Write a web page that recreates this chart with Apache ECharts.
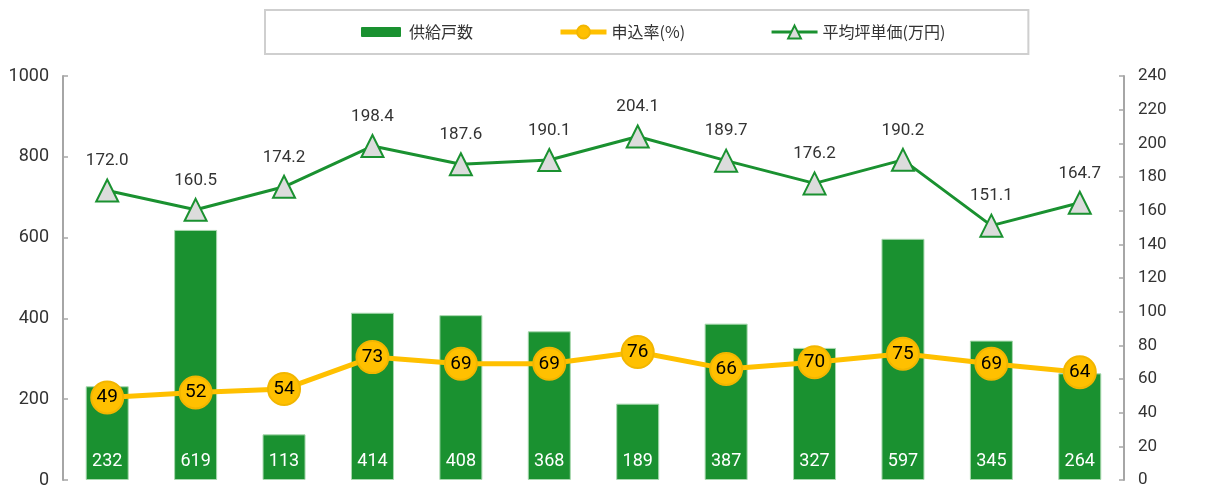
<!DOCTYPE html>
<html>
<head>
<meta charset="utf-8">
<script src="https://cdn.jsdelivr.net/npm/echarts@6/dist/echarts.min.js"></script>
<style>
html, body { margin: 0; padding: 0; background: #fff; }
#main { width: 1215px; height: 489px; }
</style>
</head>
<body>
<div id="main"></div>
<script>
var categories = ['1', '2', '3', '4', '5', '6', '7', '8', '9', '10', '11', '12'];
var supply = [232, 619, 113, 414, 408, 368, 189, 387, 327, 597, 345, 264];
var rate = [49, 52, 54, 73, 69, 69, 76, 66, 70, 75, 69, 64];
var price = [172.0, 160.5, 174.2, 198.4, 187.6, 190.1, 204.1, 189.7, 176.2, 190.2, 151.1, 164.7];

var font = "Roboto, 'Noto Sans CJK JP', sans-serif";
var green = '#1a9130';
var yellow = '#ffc000';

var myChart = echarts.init(document.getElementById('main'));
var option = {
    backgroundColor: '#fff',
    textStyle: { fontFamily: font },
    legend: {
        left: 265,
        top: 10,
        padding: [11, 83, 11, 90],
        borderColor: '#cfcfcf',
        borderWidth: 2,
        itemGap: 85,
        itemWidth: 46,
        itemHeight: 16,
        textStyle: { fontSize: 16, color: '#333', fontFamily: "'Noto Sans CJK JP', sans-serif" },
        data: [
            { name: '供給戸数', itemStyle: { borderColor: '#fff', borderWidth: 6 } },
            { name: '申込率(%)', lineStyle: { width: 5 } },
            { name: '平均坪単価(万円)', lineStyle: { width: 3 } }
        ]
    },
    grid: {
        left: 63,
        right: 91,
        top: 76,
        bottom: 7
    },
    xAxis: {
        type: 'category',
        data: categories,
        axisLine: { show: false },
        axisTick: { show: false },
        axisLabel: { show: false }
    },
    yAxis: [
        {
            type: 'value',
            min: 0,
            max: 1000,
            interval: 200,
            axisLine: { show: true, lineStyle: { color: '#a6a6a6', width: 2 } },
            axisTick: { show: true, inside: true, length: 5, lineStyle: { color: '#a6a6a6', width: 1.5 } },
            axisLabel: {
                color: '#333',
                fontSize: 18,
                margin: 14,
                formatter: function (v) {
                    return String(v);
                }
            },
            splitLine: { show: false }
        },
        {
            type: 'value',
            min: 0,
            max: 240,
            interval: 20,
            axisLine: { show: true, lineStyle: { color: '#a6a6a6', width: 2 } },
            axisTick: { show: true, inside: true, length: 5, lineStyle: { color: '#a6a6a6', width: 1.5 } },
            axisLabel: { color: '#333', fontSize: 17, margin: 14 },
            splitLine: { show: false }
        }
    ],
    series: [
        {
            name: '供給戸数',
            type: 'bar',
            data: supply,
            barWidth: 43,
            itemStyle: { color: green, borderColor: '#a8d8ae', borderWidth: 1 },
            label: {
                show: true,
                position: 'insideBottom',
                distance: 10,
                color: '#fff',
                fontSize: 18
            }
        },
        {
            name: '申込率(%)',
            type: 'line',
            yAxisIndex: 1,
            data: rate,
            symbol: 'circle',
            symbolSize: 32,
            z: 4,
            lineStyle: { color: yellow, width: 5 },
            itemStyle: { color: yellow, borderColor: '#f2b600', borderWidth: 2 },
            label: {
                show: true,
                position: 'inside',
                color: '#000',
                fontSize: 19
            }
        },
        {
            name: '平均坪単価(万円)',
            type: 'line',
            yAxisIndex: 1,
            data: price,
            symbol: 'triangle',
            symbolSize: 22,
            z: 3,
            lineStyle: { color: green, width: 3 },
            itemStyle: { color: '#dcdcdc', borderColor: green, borderWidth: 2 },
            label: {
                show: true,
                position: 'top',
                distance: 9,
                color: '#333',
                fontSize: 17,
                formatter: function (p) {
                    return p.value.toFixed(1);
                }
            }
        }
    ]
};
myChart.setOption(option);
window.onresize = function () {
    myChart.resize();
};
</script>
</body>
</html>
